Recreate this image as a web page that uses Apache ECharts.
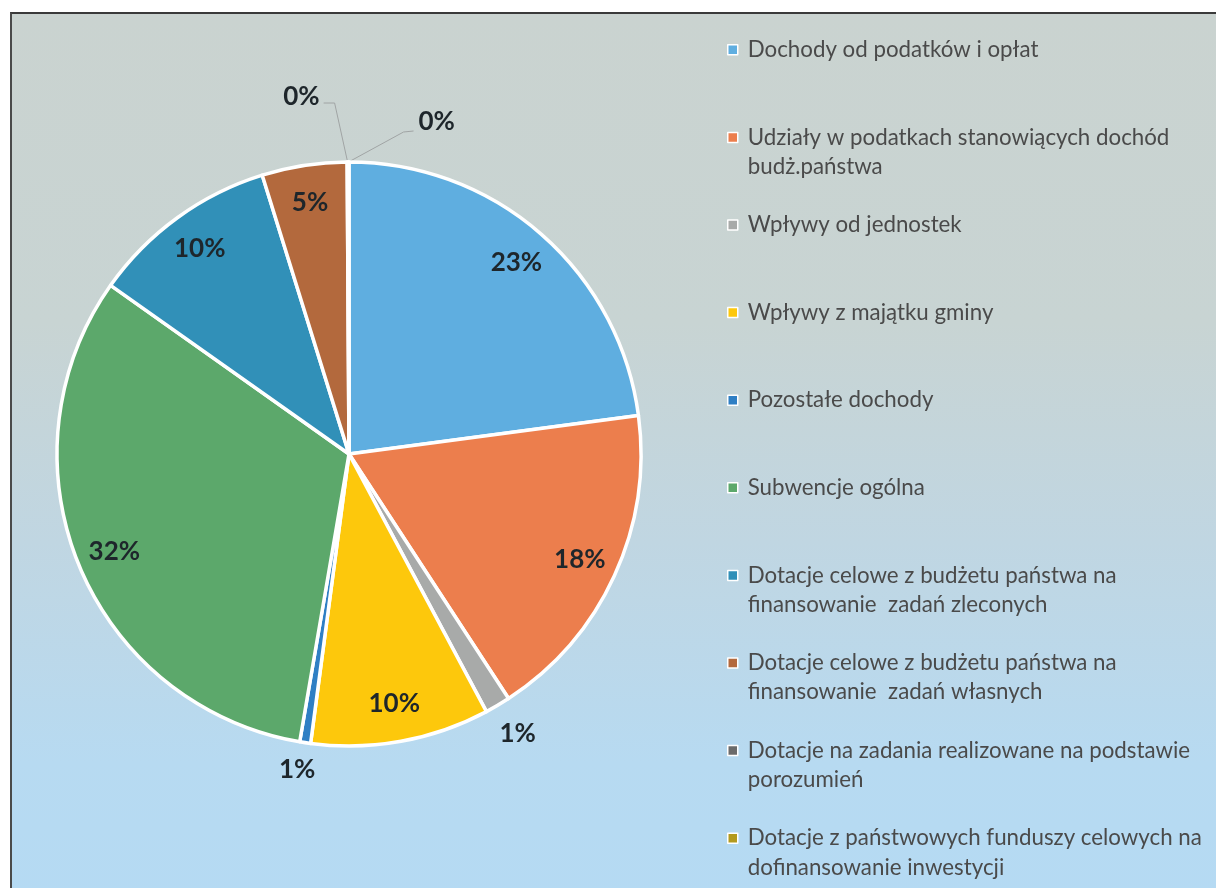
<!DOCTYPE html>
<html>
<head>
<meta charset="utf-8">
<script src="https://cdn.jsdelivr.net/npm/echarts@6/dist/echarts.min.js"></script>
<style>
html,body{margin:0;padding:0;background:#ffffff;width:1216px;height:888px;overflow:hidden;}
#bg{position:absolute;left:10px;top:12px;width:1210px;height:880px;border-top:2px solid #3a3a3a;border-left:2px solid #4a4a4a;
background:linear-gradient(to bottom,#cad3d0 0%,#c8d4d3 35%,#c0d6e2 60%,#b7daf1 85%,#b5daf3 100%);}
#chart{position:absolute;left:0;top:0;width:1216px;height:888px;}
</style>
</head>
<body>
<div id="bg"></div>
<div id="chart"></div>
<script>
// categories (legend names, line breaks as in the reference)
var categories = [
  'Dochody od podatków i opłat',
  'Udziały w podatkach stanowiących dochód\nbudż.państwa',
  'Wpływy od jednostek',
  'Wpływy z majątku gminy',
  'Pozostałe dochody',
  'Subwencje ogólna',
  'Dotacje celowe z budżetu państwa na\nfinansowanie  zadań zleconych',
  'Dotacje celowe z budżetu państwa na\nfinansowanie  zadań własnych',
  'Dotacje na zadania realizowane na podstawie\nporozumień',
  'Dotacje z państwowych funduszy celowych na\ndofinansowanie inwestycji'
];
// shares in percent
var shares = [22.9, 17.9, 1.4, 9.9, 0.6, 32.1, 10.4, 4.7, 0.05, 0.05];
var colors = ['#5faee0', '#ec7e4d', '#a8aaa9', '#fdc80c', '#2f7fc4', '#5ca86b', '#3190b8', '#b3693d', '#6b6b6b', '#b39a1e'];
// which slices carry an outside label
var outsideLabel = [false, false, true, false, true, false, false, false, true, true];

var labelColor = '#1e262b';
var labelFont = {fontFamily: 'Lato', fontWeight: 'bold', fontSize: 26, color: labelColor};

var mainData = categories.map(function (n, i) {
  return {
    name: n, value: shares[i],
    itemStyle: {color: colors[i]},
    label: {show: outsideLabel[i]},
    labelLine: {show: outsideLabel[i], lineStyle: {color: '#a0a4a4', width: 1, opacity: (i >= 8 ? 1 : 0)}}
  };
});
var innerData = categories.map(function (n, i) {
  return {name: n, value: shares[i], label: {show: !outsideLabel[i]}};
});

// label offsets for outside labels, relative to the slice edge point
var outsideLayout = {
  2: {line: null, dx: 20, dy: 28, align: 'center'},
  4: {line: null, dx: -8, dy: 27, align: 'center'},
  8: {line: [[-13, -59], [-24, -59]], dx: -28, dy: -65, align: 'right'},
  9: {line: [[55, -30], [65, -31]], dx: 70, dy: -40, align: 'left'}
};

var fmt = function (p) { return Math.round(p.percent) + '%'; };

var chart = echarts.init(document.getElementById('chart'), null, {renderer: 'canvas'});
chart.setOption({
  animation: false,
  color: colors,
  legend: {
    orient: 'vertical',
    left: 727, top: 6,
    padding: 0,
    itemGap: 0,
    itemWidth: 10, itemHeight: 10,
    icon: 'rect',
    selectedMode: false,
    itemStyle: {borderColor: '#ffffff', borderWidth: 1.5},
    // first text line sits level with the icon; every entry takes three line slots
    formatter: function (name) { return ' \n' + name + (name.indexOf('\n') >= 0 ? '' : '\n '); },
    textStyle: {fontFamily: 'Lato', fontSize: 22.3, lineHeight: 29.2, color: '#4a4a4a', padding: [0, 0, 0, 5]},
    data: categories
  },
  series: [
    {
      type: 'pie',
      center: [349, 454],
      radius: [0, 292],
      startAngle: 90,
      clockwise: true,
      avoidLabelOverlap: false,
      silent: true,
      itemStyle: {borderColor: '#ffffff', borderWidth: 3.5},
      label: Object.assign({position: 'outside', formatter: fmt}, labelFont),
      labelLine: {show: true, length: 20, length2: 10},
      labelLayout: function (params) {
        var cfg = outsideLayout[params.dataIndex];
        var pts = params.labelLinePoints;
        if (!cfg || !pts) return {};
        var p0 = pts[0];
        var res = {x: p0[0] + cfg.dx, y: p0[1] + cfg.dy, align: cfg.align, verticalAlign: 'middle'};
        if (cfg.line) {
          res.labelLinePoints = [p0.slice(), [p0[0] + cfg.line[0][0], p0[1] + cfg.line[0][1]], [p0[0] + cfg.line[1][0], p0[1] + cfg.line[1][1]]];
        } else {
          res.labelLinePoints = [p0.slice(), p0.slice(), p0.slice()];
        }
        return res;
      },
      data: mainData
    },
    {
      type: 'pie',
      center: [349, 454],
      radius: [210, 292],
      startAngle: 90,
      clockwise: true,
      silent: true,
      z: 3,
      legendHoverLink: false,
      itemStyle: {color: 'rgba(0,0,0,0)', borderWidth: 0},
      label: Object.assign({position: 'inside', formatter: fmt}, labelFont),
      labelLine: {show: false},
      data: innerData
    }
  ]
});
</script>
</body>
</html>
